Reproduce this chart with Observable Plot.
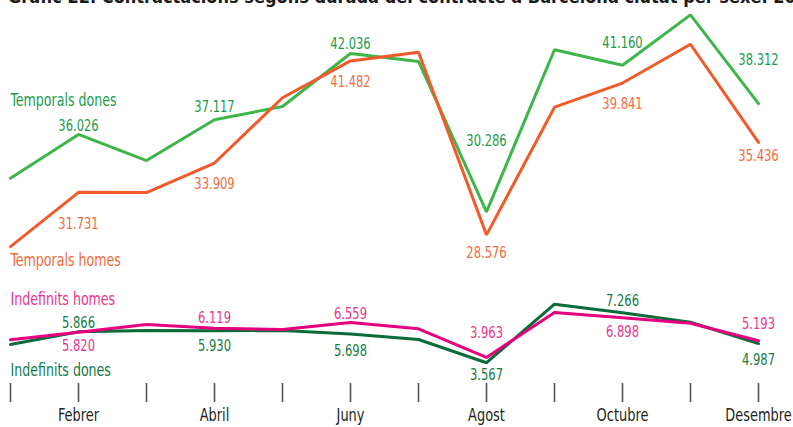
<!DOCTYPE html>
<html>
<head>
<meta charset="utf-8">
<script src="https://cdn.jsdelivr.net/npm/d3@7"></script>
<script src="https://cdn.jsdelivr.net/npm/@observablehq/plot@0.6"></script>
<style>
  html, body { margin: 0; padding: 0; background: #fff; }
  #wrap { position: relative; width: 793px; height: 427px; overflow: hidden; background: #fff; }
  #title { position: absolute; left: 8px; top: -12px; white-space: nowrap; font-family: 'Liberation Sans Narrow', 'DejaVu Sans Condensed', sans-serif; font-weight: bold; font-size: 18px; line-height: 18px; color: #1a1a1a; }
  #wrap svg { display: block; overflow: visible; }
</style>
</head>
<body>
<div id="wrap">
  <div id="chart"></div>
  <div id="title">Gràfic 22. Contractacions segons durada del contracte a Barcelona ciutat per sexe. 2014</div>
</div>
<script>
// ---- data ----
const months = ["Gener","Febrer","Març","Abril","Maig","Juny","Juliol","Agost","Setembre","Octubre","Novembre","Desembre"];
const tickLabels = ["Febrer","Abril","Juny","Agost","Octubre","Desembre"];
const temporalsDones  = [32780, 36026, 34090, 37117, 38100, 42036, 41440, 30286, 42310, 41160, 44900, 38312];
const temporalsHomes  = [27710, 31731, 31720, 33909, 38750, 41482, 42130, 28576, 38050, 39841, 42720, 35436];
const indefinitsDones = [4920, 5866, 5960, 5930, 5960, 5698, 5290, 3567, 7910, 7266, 6570, 4987];
const indefinitsHomes = [5270, 5820, 6400, 6119, 6030, 6559, 6080, 3963, 7290, 6898, 6500, 5193];
const seriesNames = ["Temporals dones", "Temporals homes", "Indefinits homes", "Indefinits dones"];

// ---- layout (label nudges, px) ----
const nudgeTD = [-9, -13, -10, -71, -22, -44];
const nudgeTH = [32, 21, 21, 18, 21, 13];
const nudgeID = [-9, 15, 17, 12, -12, 16];
const nudgeIH = [14, -10, -9, -25, 14, -17];
const FONT = "'Liberation Sans Narrow', 'DejaVu Sans Condensed', sans-serif";
const C = {
  td: "#3db54a", tdText: "#1a9b4c",
  th: "#f15a29", thText: "#f36b3b",
  ih: "#e6007e", ihText: "#e8358b",
  id: "#0b6b3a", idText: "#137a45"
};

const fmt = d3.formatLocale({thousands: ".", decimal: ",", grouping: [3], currency: ["", "€"]}).format(",d");

const table = months.map((m, i) => ({
  month: m,
  td: temporalsDones[i], th: temporalsHomes[i],
  id: indefinitsDones[i], ih: indefinitsHomes[i]
}));

function valueLabels(key, nudges, color) {
  return tickLabels.map((m, j) => {
    const row = table[months.indexOf(m)];
    return Plot.text([row], {
      x: "month", y: key, text: d => fmt(d[key]),
      dy: nudges[j], fill: color, fontSize: 16, fontFamily: FONT
    });
  });
}
function nameLabel(name, key, dy, color) {
  return Plot.text([table[0]], {
    x: "month", y: key, text: () => name, dy, textAnchor: "start",
    fill: color, fontSize: 17.5, fontFamily: FONT
  });
}

const xScale = {type: "point", domain: months, range: [10, 758], padding: 0, label: null};

const topChart = Plot.plot({
  width: 793, height: 270, margin: 0,
  x: {...xScale, axis: null},
  y: {domain: [27000, 45000], range: [255.64, 13.0], axis: null},
  style: {fontFamily: FONT, background: "transparent", overflow: "visible"},
  marks: [
    Plot.line(table, {x: "month", y: "td", stroke: C.td, strokeWidth: 3, strokeLinejoin: "miter"}),
    Plot.line(table, {x: "month", y: "th", stroke: C.th, strokeWidth: 3, strokeLinejoin: "miter"}),
    ...valueLabels("td", nudgeTD, C.tdText),
    ...valueLabels("th", nudgeTH, C.thText),
    nameLabel(seriesNames[0], "td", -78, C.tdText),
    nameLabel(seriesNames[1], "th", 14, C.thText)
  ]
});

const bottomChart = Plot.plot({
  width: 793, height: 157, marginTop: 0, marginLeft: 0, marginRight: 0, marginBottom: 44,
  x: xScale,
  y: {domain: [3000, 8000], range: [99.86, 32.46], axis: null},
  style: {fontFamily: FONT, background: "transparent", overflow: "visible"},
  marks: [
    Plot.axisX({
      anchor: "bottom", tickSize: 19, tickPadding: 6, label: null,
      tickFormat: d => tickLabels.includes(d) ? d : "",
      stroke: "#555", strokeWidth: 1.6, fill: "#231f20", fontSize: 18, fontFamily: FONT
    }),
    Plot.line(table, {x: "month", y: "id", stroke: C.id, strokeWidth: 3, strokeLinejoin: "miter"}),
    Plot.line(table, {x: "month", y: "ih", stroke: C.ih, strokeWidth: 3, strokeLinejoin: "miter"}),
    ...valueLabels("id", nudgeID, C.idText),
    ...valueLabels("ih", nudgeIH, C.ihText),
    nameLabel(seriesNames[2], "ih", -40, C.ihText),
    nameLabel(seriesNames[3], "id", 26, C.idText)
  ]
});

document.getElementById("chart").append(topChart, bottomChart);

// Condense the glyphs horizontally to mimic the narrow typeface of the original
d3.selectAll("#chart svg text").each(function () {
  const L = this.getComputedTextLength();
  if (L > 0) {
    this.setAttribute("textLength", (L * 0.8).toFixed(1));
    this.setAttribute("lengthAdjust", "spacingAndGlyphs");
  }
});
</script>
</body>
</html>
